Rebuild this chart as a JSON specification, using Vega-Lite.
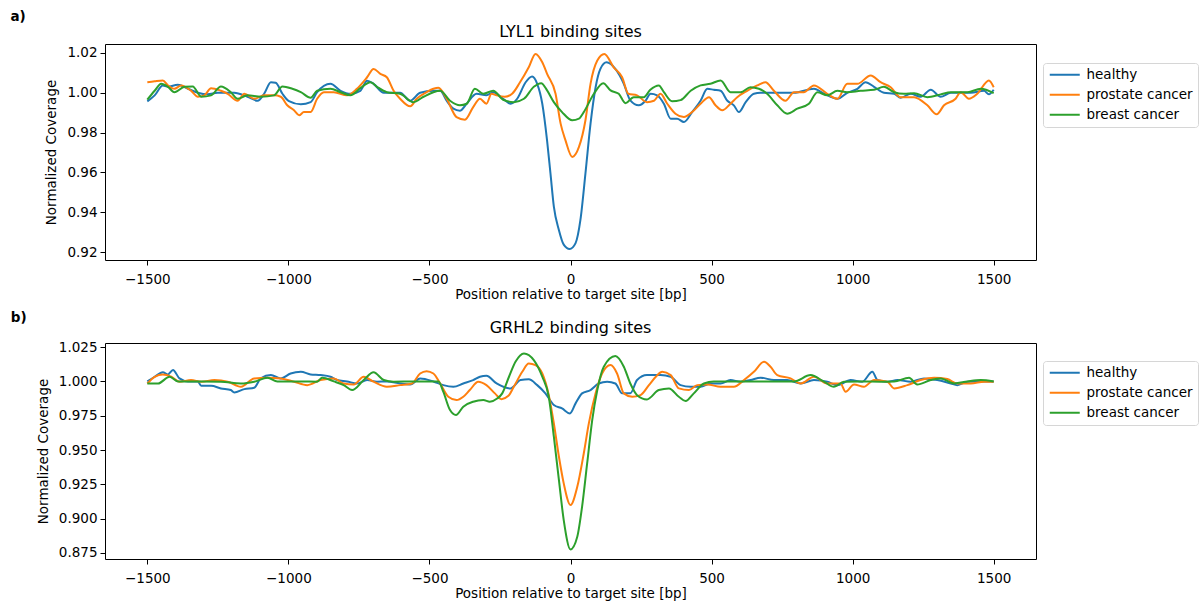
{
  "$schema": "https://vega.github.io/schema/vega-lite/v6.json",
  "padding": {"left": 10, "top": 10, "right": 0, "bottom": 0},
  "spacing": 9,
  "datasets": {
    "a": [
      {"s":"healthy","x":-1500,"y":0.9957},{"s":"healthy","x":-1474,"y":0.9987},{"s":"healthy","x":-1445,"y":1.0037},{"s":"healthy","x":-1427,"y":1.003},{"s":"healthy","x":-1392,"y":1.004},{"s":"healthy","x":-1356,"y":1.002},{"s":"healthy","x":-1321,"y":1.0},{"s":"healthy","x":-1286,"y":0.9992},{"s":"healthy","x":-1251,"y":1.0},{"s":"healthy","x":-1192,"y":1.0},{"s":"healthy","x":-1145,"y":0.998},{"s":"healthy","x":-1109,"y":0.996},{"s":"healthy","x":-1086,"y":0.9995},{"s":"healthy","x":-1062,"y":1.0053},{"s":"healthy","x":-1045,"y":1.005},{"s":"healthy","x":-1021,"y":0.9995},{"s":"healthy","x":-998,"y":0.9958},{"s":"healthy","x":-956,"y":0.9942},{"s":"healthy","x":-921,"y":0.9953},{"s":"healthy","x":-898,"y":1.0003},{"s":"healthy","x":-851,"y":1.0045},{"s":"healthy","x":-815,"y":1.001},{"s":"healthy","x":-780,"y":0.9995},{"s":"healthy","x":-745,"y":1.001},{"s":"healthy","x":-721,"y":1.006},{"s":"healthy","x":-698,"y":1.0045},{"s":"healthy","x":-662,"y":1.0},{"s":"healthy","x":-604,"y":1.0},{"s":"healthy","x":-568,"y":0.996},{"s":"healthy","x":-533,"y":1.0},{"s":"healthy","x":-486,"y":1.001},{"s":"healthy","x":-462,"y":1.001},{"s":"healthy","x":-439,"y":0.996},{"s":"healthy","x":-415,"y":0.992},{"s":"healthy","x":-392,"y":0.991},{"s":"healthy","x":-368,"y":0.9945},{"s":"healthy","x":-333,"y":0.9995},{"s":"healthy","x":-298,"y":0.9987},{"s":"healthy","x":-274,"y":1.0003},{"s":"healthy","x":-239,"y":0.997},{"s":"healthy","x":-212,"y":0.9945},{"s":"healthy","x":-189,"y":0.997},{"s":"healthy","x":-159,"y":1.0053},{"s":"healthy","x":-136,"y":1.0082},{"s":"healthy","x":-118,"y":1.0045},{"s":"healthy","x":-100,"y":0.9945},{"s":"healthy","x":-83,"y":0.976},{"s":"healthy","x":-71,"y":0.9595},{"s":"healthy","x":-59,"y":0.9428},{"s":"healthy","x":-41,"y":0.931},{"s":"healthy","x":-24,"y":0.9237},{"s":"healthy","x":-3,"y":0.9215},{"s":"healthy","x":18,"y":0.9245},{"s":"healthy","x":35,"y":0.936},{"s":"healthy","x":53,"y":0.9595},{"s":"healthy","x":71,"y":0.9845},{"s":"healthy","x":89,"y":1.0028},{"s":"healthy","x":106,"y":1.012},{"s":"healthy","x":128,"y":1.0153},{"s":"healthy","x":159,"y":1.012},{"s":"healthy","x":189,"y":1.0045},{"s":"healthy","x":212,"y":0.9962},{"s":"healthy","x":242,"y":0.9937},{"s":"healthy","x":266,"y":0.996},{"s":"healthy","x":284,"y":0.9995},{"s":"healthy","x":307,"y":0.9987},{"s":"healthy","x":331,"y":0.9945},{"s":"healthy","x":355,"y":0.987},{"s":"healthy","x":378,"y":0.987},{"s":"healthy","x":402,"y":0.9853},{"s":"healthy","x":431,"y":0.9903},{"s":"healthy","x":461,"y":0.996},{"s":"healthy","x":485,"y":1.002},{"s":"healthy","x":508,"y":1.0015},{"s":"healthy","x":532,"y":1.001},{"s":"healthy","x":556,"y":0.996},{"s":"healthy","x":579,"y":0.9937},{"s":"healthy","x":597,"y":0.9903},{"s":"healthy","x":621,"y":0.9953},{"s":"healthy","x":650,"y":0.9995},{"s":"healthy","x":674,"y":1.0},{"s":"healthy","x":792,"y":1.0},{"s":"healthy","x":863,"y":1.002},{"s":"healthy","x":899,"y":0.9995},{"s":"healthy","x":946,"y":0.997},{"s":"healthy","x":981,"y":1.0},{"s":"healthy","x":1017,"y":1.002},{"s":"healthy","x":1046,"y":1.0053},{"s":"healthy","x":1076,"y":1.003},{"s":"healthy","x":1111,"y":1.0},{"s":"healthy","x":1147,"y":0.9995},{"s":"healthy","x":1170,"y":0.9975},{"s":"healthy","x":1206,"y":0.9995},{"s":"healthy","x":1241,"y":0.998},{"s":"healthy","x":1277,"y":1.0015},{"s":"healthy","x":1312,"y":0.998},{"s":"healthy","x":1348,"y":1.0},{"s":"healthy","x":1419,"y":1.0},{"s":"healthy","x":1466,"y":1.001},{"s":"healthy","x":1483,"y":0.9992},{"s":"healthy","x":1500,"y":1.0015},
      {"s":"prostate cancer","x":-1500,"y":1.0053},{"s":"prostate cancer","x":-1474,"y":1.0058},{"s":"prostate cancer","x":-1445,"y":1.0062},{"s":"prostate cancer","x":-1427,"y":1.0037},{"s":"prostate cancer","x":-1404,"y":1.002},{"s":"prostate cancer","x":-1380,"y":1.0037},{"s":"prostate cancer","x":-1345,"y":1.001},{"s":"prostate cancer","x":-1321,"y":0.998},{"s":"prostate cancer","x":-1298,"y":0.9987},{"s":"prostate cancer","x":-1274,"y":1.0023},{"s":"prostate cancer","x":-1239,"y":1.001},{"s":"prostate cancer","x":-1215,"y":0.9995},{"s":"prostate cancer","x":-1180,"y":0.996},{"s":"prostate cancer","x":-1156,"y":0.9995},{"s":"prostate cancer","x":-1121,"y":0.997},{"s":"prostate cancer","x":-1086,"y":0.9987},{"s":"prostate cancer","x":-1051,"y":0.9987},{"s":"prostate cancer","x":-1027,"y":0.998},{"s":"prostate cancer","x":-1004,"y":0.9937},{"s":"prostate cancer","x":-980,"y":0.9912},{"s":"prostate cancer","x":-962,"y":0.9887},{"s":"prostate cancer","x":-945,"y":0.9903},{"s":"prostate cancer","x":-921,"y":0.9903},{"s":"prostate cancer","x":-898,"y":0.997},{"s":"prostate cancer","x":-874,"y":1.0003},{"s":"prostate cancer","x":-839,"y":1.0003},{"s":"prostate cancer","x":-792,"y":0.9987},{"s":"prostate cancer","x":-757,"y":1.002},{"s":"prostate cancer","x":-721,"y":1.0078},{"s":"prostate cancer","x":-698,"y":1.012},{"s":"prostate cancer","x":-674,"y":1.0095},{"s":"prostate cancer","x":-651,"y":1.0078},{"s":"prostate cancer","x":-627,"y":1.001},{"s":"prostate cancer","x":-604,"y":0.997},{"s":"prostate cancer","x":-568,"y":0.9932},{"s":"prostate cancer","x":-545,"y":0.997},{"s":"prostate cancer","x":-510,"y":1.0003},{"s":"prostate cancer","x":-486,"y":1.002},{"s":"prostate cancer","x":-468,"y":1.0025},{"s":"prostate cancer","x":-439,"y":0.997},{"s":"prostate cancer","x":-404,"y":0.9878},{"s":"prostate cancer","x":-374,"y":0.9865},{"s":"prostate cancer","x":-345,"y":0.9928},{"s":"prostate cancer","x":-321,"y":0.997},{"s":"prostate cancer","x":-298,"y":0.9945},{"s":"prostate cancer","x":-280,"y":0.9995},{"s":"prostate cancer","x":-262,"y":0.9987},{"s":"prostate cancer","x":-233,"y":0.998},{"s":"prostate cancer","x":-207,"y":0.9995},{"s":"prostate cancer","x":-180,"y":1.005},{"s":"prostate cancer","x":-148,"y":1.0128},{"s":"prostate cancer","x":-124,"y":1.0195},{"s":"prostate cancer","x":-100,"y":1.0153},{"s":"prostate cancer","x":-83,"y":1.0095},{"s":"prostate cancer","x":-53,"y":0.9995},{"s":"prostate cancer","x":-35,"y":0.9845},{"s":"prostate cancer","x":-18,"y":0.9762},{"s":"prostate cancer","x":6,"y":0.9678},{"s":"prostate cancer","x":30,"y":0.9728},{"s":"prostate cancer","x":53,"y":0.9862},{"s":"prostate cancer","x":71,"y":1.0045},{"s":"prostate cancer","x":95,"y":1.0162},{"s":"prostate cancer","x":120,"y":1.0195},{"s":"prostate cancer","x":153,"y":1.0128},{"s":"prostate cancer","x":183,"y":1.0078},{"s":"prostate cancer","x":205,"y":0.9995},{"s":"prostate cancer","x":236,"y":0.9987},{"s":"prostate cancer","x":271,"y":0.9953},{"s":"prostate cancer","x":296,"y":0.996},{"s":"prostate cancer","x":319,"y":0.9995},{"s":"prostate cancer","x":343,"y":0.9945},{"s":"prostate cancer","x":372,"y":0.9895},{"s":"prostate cancer","x":402,"y":0.9878},{"s":"prostate cancer","x":431,"y":0.9903},{"s":"prostate cancer","x":461,"y":0.9945},{"s":"prostate cancer","x":491,"y":0.9978},{"s":"prostate cancer","x":514,"y":0.9937},{"s":"prostate cancer","x":538,"y":0.9912},{"s":"prostate cancer","x":567,"y":0.9945},{"s":"prostate cancer","x":591,"y":0.9978},{"s":"prostate cancer","x":626,"y":1.001},{"s":"prostate cancer","x":662,"y":1.0037},{"s":"prostate cancer","x":691,"y":1.0053},{"s":"prostate cancer","x":721,"y":1.001},{"s":"prostate cancer","x":762,"y":0.996},{"s":"prostate cancer","x":792,"y":1.0003},{"s":"prostate cancer","x":827,"y":1.0003},{"s":"prostate cancer","x":863,"y":1.0037},{"s":"prostate cancer","x":910,"y":0.9995},{"s":"prostate cancer","x":946,"y":0.997},{"s":"prostate cancer","x":981,"y":1.0045},{"s":"prostate cancer","x":1017,"y":1.0045},{"s":"prostate cancer","x":1064,"y":1.0087},{"s":"prostate cancer","x":1099,"y":1.0053},{"s":"prostate cancer","x":1135,"y":1.0028},{"s":"prostate cancer","x":1170,"y":0.9978},{"s":"prostate cancer","x":1218,"y":0.9978},{"s":"prostate cancer","x":1265,"y":0.9937},{"s":"prostate cancer","x":1298,"y":0.9892},{"s":"prostate cancer","x":1324,"y":0.9937},{"s":"prostate cancer","x":1365,"y":0.997},{"s":"prostate cancer","x":1383,"y":1.0003},{"s":"prostate cancer","x":1412,"y":0.997},{"s":"prostate cancer","x":1442,"y":0.9995},{"s":"prostate cancer","x":1483,"y":1.0062},{"s":"prostate cancer","x":1500,"y":1.0028},
      {"s":"breast cancer","x":-1500,"y":0.9965},{"s":"breast cancer","x":-1474,"y":1.001},{"s":"breast cancer","x":-1451,"y":1.0045},{"s":"breast cancer","x":-1427,"y":1.003},{"s":"breast cancer","x":-1404,"y":1.0003},{"s":"breast cancer","x":-1368,"y":1.003},{"s":"breast cancer","x":-1339,"y":1.0032},{"s":"breast cancer","x":-1309,"y":0.998},{"s":"breast cancer","x":-1274,"y":0.9987},{"s":"breast cancer","x":-1239,"y":1.0032},{"s":"breast cancer","x":-1204,"y":1.0003},{"s":"breast cancer","x":-1180,"y":0.997},{"s":"breast cancer","x":-1145,"y":0.9987},{"s":"breast cancer","x":-1098,"y":0.998},{"s":"breast cancer","x":-1051,"y":0.9987},{"s":"breast cancer","x":-1021,"y":1.0032},{"s":"breast cancer","x":-986,"y":1.002},{"s":"breast cancer","x":-956,"y":1.0003},{"s":"breast cancer","x":-921,"y":0.9975},{"s":"breast cancer","x":-898,"y":1.001},{"s":"breast cancer","x":-851,"y":1.002},{"s":"breast cancer","x":-815,"y":1.0003},{"s":"breast cancer","x":-780,"y":0.9987},{"s":"breast cancer","x":-745,"y":1.0023},{"s":"breast cancer","x":-709,"y":1.0053},{"s":"breast cancer","x":-686,"y":1.003},{"s":"breast cancer","x":-651,"y":1.0003},{"s":"breast cancer","x":-604,"y":0.9995},{"s":"breast cancer","x":-557,"y":0.9953},{"s":"breast cancer","x":-521,"y":0.998},{"s":"breast cancer","x":-486,"y":1.0003},{"s":"breast cancer","x":-462,"y":1.001},{"s":"breast cancer","x":-427,"y":0.996},{"s":"breast cancer","x":-392,"y":0.9937},{"s":"breast cancer","x":-368,"y":0.9945},{"s":"breast cancer","x":-339,"y":1.002},{"s":"breast cancer","x":-309,"y":0.9995},{"s":"breast cancer","x":-274,"y":1.001},{"s":"breast cancer","x":-239,"y":0.9965},{"s":"breast cancer","x":-201,"y":0.9953},{"s":"breast cancer","x":-165,"y":0.997},{"s":"breast cancer","x":-130,"y":1.003},{"s":"breast cancer","x":-104,"y":1.0048},{"s":"breast cancer","x":-83,"y":1.0012},{"s":"breast cancer","x":-59,"y":0.9953},{"s":"breast cancer","x":-30,"y":0.9903},{"s":"breast cancer","x":6,"y":0.9862},{"s":"breast cancer","x":30,"y":0.987},{"s":"breast cancer","x":47,"y":0.9903},{"s":"breast cancer","x":83,"y":0.9995},{"s":"breast cancer","x":116,"y":1.0048},{"s":"breast cancer","x":142,"y":1.0012},{"s":"breast cancer","x":171,"y":0.9995},{"s":"breast cancer","x":195,"y":0.9948},{"s":"breast cancer","x":224,"y":0.9978},{"s":"breast cancer","x":260,"y":0.9978},{"s":"breast cancer","x":283,"y":1.0015},{"s":"breast cancer","x":313,"y":1.0037},{"s":"breast cancer","x":331,"y":1.0003},{"s":"breast cancer","x":360,"y":0.9957},{"s":"breast cancer","x":390,"y":0.9963},{"s":"breast cancer","x":426,"y":1.001},{"s":"breast cancer","x":461,"y":1.0037},{"s":"breast cancer","x":496,"y":1.0045},{"s":"breast cancer","x":532,"y":1.0062},{"s":"breast cancer","x":567,"y":1.0003},{"s":"breast cancer","x":603,"y":1.0003},{"s":"breast cancer","x":638,"y":1.0028},{"s":"breast cancer","x":668,"y":1.002},{"s":"breast cancer","x":697,"y":0.9995},{"s":"breast cancer","x":733,"y":0.9937},{"s":"breast cancer","x":768,"y":0.9895},{"s":"breast cancer","x":804,"y":0.992},{"s":"breast cancer","x":845,"y":0.9945},{"s":"breast cancer","x":875,"y":1.0003},{"s":"breast cancer","x":910,"y":0.9987},{"s":"breast cancer","x":946,"y":1.001},{"s":"breast cancer","x":981,"y":1.0003},{"s":"breast cancer","x":1028,"y":1.001},{"s":"breast cancer","x":1076,"y":1.0015},{"s":"breast cancer","x":1111,"y":1.003},{"s":"breast cancer","x":1147,"y":1.0003},{"s":"breast cancer","x":1182,"y":0.9995},{"s":"breast cancer","x":1218,"y":0.9998},{"s":"breast cancer","x":1265,"y":0.9978},{"s":"breast cancer","x":1312,"y":0.9992},{"s":"breast cancer","x":1348,"y":1.0003},{"s":"breast cancer","x":1407,"y":1.0003},{"s":"breast cancer","x":1454,"y":1.002},{"s":"breast cancer","x":1500,"y":0.9998}
    ],
    "b": [
      {"s":"healthy","x":-1500,"y":1.0},{"s":"healthy","x":-1474,"y":1.0034},{"s":"healthy","x":-1445,"y":1.0066},{"s":"healthy","x":-1427,"y":1.0051},{"s":"healthy","x":-1409,"y":1.0083},{"s":"healthy","x":-1386,"y":1.0022},{"s":"healthy","x":-1356,"y":1.0},{"s":"healthy","x":-1321,"y":1.0},{"s":"healthy","x":-1309,"y":0.9968},{"s":"healthy","x":-1274,"y":0.9968},{"s":"healthy","x":-1239,"y":0.9949},{"s":"healthy","x":-1204,"y":0.9937},{"s":"healthy","x":-1192,"y":0.992},{"s":"healthy","x":-1156,"y":0.9944},{"s":"healthy","x":-1121,"y":0.9954},{"s":"healthy","x":-1098,"y":1.0022},{"s":"healthy","x":-1062,"y":1.0046},{"s":"healthy","x":-1027,"y":1.0022},{"s":"healthy","x":-992,"y":1.0058},{"s":"healthy","x":-956,"y":1.007},{"s":"healthy","x":-921,"y":1.0051},{"s":"healthy","x":-886,"y":1.0046},{"s":"healthy","x":-851,"y":1.0034},{"s":"healthy","x":-827,"y":1.001},{"s":"healthy","x":-792,"y":1.0},{"s":"healthy","x":-757,"y":0.9985},{"s":"healthy","x":-721,"y":1.001},{"s":"healthy","x":-686,"y":0.9998},{"s":"healthy","x":-651,"y":1.0},{"s":"healthy","x":-604,"y":0.9985},{"s":"healthy","x":-568,"y":0.9978},{"s":"healthy","x":-533,"y":1.0022},{"s":"healthy","x":-486,"y":1.0},{"s":"healthy","x":-451,"y":0.9973},{"s":"healthy","x":-415,"y":0.9961},{"s":"healthy","x":-380,"y":0.9985},{"s":"healthy","x":-345,"y":1.001},{"s":"healthy","x":-321,"y":1.0034},{"s":"healthy","x":-298,"y":1.0041},{"s":"healthy","x":-262,"y":0.9985},{"s":"healthy","x":-212,"y":0.9949},{"s":"healthy","x":-177,"y":1.001},{"s":"healthy","x":-148,"y":1.0015},{"s":"healthy","x":-118,"y":0.9973},{"s":"healthy","x":-89,"y":0.9913},{"s":"healthy","x":-59,"y":0.9828},{"s":"healthy","x":-30,"y":0.9803},{"s":"healthy","x":-2,"y":0.9767},{"s":"healthy","x":18,"y":0.984},{"s":"healthy","x":41,"y":0.9913},{"s":"healthy","x":71,"y":0.9937},{"s":"healthy","x":100,"y":0.9985},{"s":"healthy","x":130,"y":0.9998},{"s":"healthy","x":159,"y":0.9985},{"s":"healthy","x":183,"y":0.9913},{"s":"healthy","x":212,"y":0.9913},{"s":"healthy","x":236,"y":1.001},{"s":"healthy","x":271,"y":1.0046},{"s":"healthy","x":319,"y":1.0046},{"s":"healthy","x":355,"y":1.0034},{"s":"healthy","x":390,"y":0.9973},{"s":"healthy","x":426,"y":0.9961},{"s":"healthy","x":461,"y":0.9961},{"s":"healthy","x":496,"y":0.9985},{"s":"healthy","x":532,"y":0.9985},{"s":"healthy","x":567,"y":1.001},{"s":"healthy","x":603,"y":0.9998},{"s":"healthy","x":638,"y":1.001},{"s":"healthy","x":674,"y":1.0027},{"s":"healthy","x":721,"y":1.001},{"s":"healthy","x":768,"y":1.001},{"s":"healthy","x":816,"y":0.9985},{"s":"healthy","x":863,"y":1.001},{"s":"healthy","x":910,"y":0.9998},{"s":"healthy","x":946,"y":0.9973},{"s":"healthy","x":993,"y":1.001},{"s":"healthy","x":1034,"y":0.9998},{"s":"healthy","x":1070,"y":1.007},{"s":"healthy","x":1088,"y":1.001},{"s":"healthy","x":1123,"y":0.9998},{"s":"healthy","x":1159,"y":1.001},{"s":"healthy","x":1206,"y":0.9998},{"s":"healthy","x":1253,"y":1.0022},{"s":"healthy","x":1300,"y":1.001},{"s":"healthy","x":1348,"y":0.9985},{"s":"healthy","x":1371,"y":0.9973},{"s":"healthy","x":1407,"y":0.9998},{"s":"healthy","x":1454,"y":1.0},{"s":"healthy","x":1500,"y":1.0},
      {"s":"prostate cancer","x":-1500,"y":0.9985},{"s":"prostate cancer","x":-1474,"y":1.0034},{"s":"prostate cancer","x":-1445,"y":1.0051},{"s":"prostate cancer","x":-1415,"y":1.0034},{"s":"prostate cancer","x":-1386,"y":0.9998},{"s":"prostate cancer","x":-1345,"y":1.001},{"s":"prostate cancer","x":-1309,"y":0.9998},{"s":"prostate cancer","x":-1262,"y":1.001},{"s":"prostate cancer","x":-1215,"y":0.9998},{"s":"prostate cancer","x":-1168,"y":0.9961},{"s":"prostate cancer","x":-1121,"y":1.0022},{"s":"prostate cancer","x":-1074,"y":1.0027},{"s":"prostate cancer","x":-1027,"y":1.0022},{"s":"prostate cancer","x":-980,"y":0.9998},{"s":"prostate cancer","x":-933,"y":0.9973},{"s":"prostate cancer","x":-886,"y":1.001},{"s":"prostate cancer","x":-839,"y":1.0022},{"s":"prostate cancer","x":-804,"y":0.9985},{"s":"prostate cancer","x":-768,"y":0.9978},{"s":"prostate cancer","x":-733,"y":1.0034},{"s":"prostate cancer","x":-698,"y":0.9998},{"s":"prostate cancer","x":-651,"y":0.9961},{"s":"prostate cancer","x":-604,"y":0.9973},{"s":"prostate cancer","x":-562,"y":0.9985},{"s":"prostate cancer","x":-533,"y":1.0058},{"s":"prostate cancer","x":-510,"y":1.0075},{"s":"prostate cancer","x":-486,"y":1.0058},{"s":"prostate cancer","x":-462,"y":0.9985},{"s":"prostate cancer","x":-433,"y":0.9888},{"s":"prostate cancer","x":-404,"y":0.9864},{"s":"prostate cancer","x":-380,"y":0.9888},{"s":"prostate cancer","x":-357,"y":0.9937},{"s":"prostate cancer","x":-327,"y":0.9998},{"s":"prostate cancer","x":-298,"y":0.9973},{"s":"prostate cancer","x":-268,"y":0.9913},{"s":"prostate cancer","x":-245,"y":0.9871},{"s":"prostate cancer","x":-220,"y":0.9895},{"s":"prostate cancer","x":-201,"y":0.9961},{"s":"prostate cancer","x":-171,"y":1.007},{"s":"prostate cancer","x":-148,"y":1.0131},{"s":"prostate cancer","x":-124,"y":1.0119},{"s":"prostate cancer","x":-100,"y":1.0058},{"s":"prostate cancer","x":-77,"y":0.99},{"s":"prostate cancer","x":-59,"y":0.9694},{"s":"prostate cancer","x":-41,"y":0.9451},{"s":"prostate cancer","x":-24,"y":0.9257},{"s":"prostate cancer","x":0,"y":0.9099},{"s":"prostate cancer","x":24,"y":0.9232},{"s":"prostate cancer","x":47,"y":0.9475},{"s":"prostate cancer","x":65,"y":0.9694},{"s":"prostate cancer","x":89,"y":0.9913},{"s":"prostate cancer","x":112,"y":1.0058},{"s":"prostate cancer","x":142,"y":1.0119},{"s":"prostate cancer","x":165,"y":1.0058},{"s":"prostate cancer","x":189,"y":0.9913},{"s":"prostate cancer","x":219,"y":0.9888},{"s":"prostate cancer","x":248,"y":0.99},{"s":"prostate cancer","x":278,"y":0.9973},{"s":"prostate cancer","x":305,"y":1.004},{"s":"prostate cancer","x":325,"y":1.007},{"s":"prostate cancer","x":355,"y":1.0046},{"s":"prostate cancer","x":384,"y":0.9949},{"s":"prostate cancer","x":420,"y":0.9937},{"s":"prostate cancer","x":449,"y":0.9973},{"s":"prostate cancer","x":485,"y":0.9978},{"s":"prostate cancer","x":532,"y":0.9961},{"s":"prostate cancer","x":579,"y":0.9961},{"s":"prostate cancer","x":615,"y":1.001},{"s":"prostate cancer","x":650,"y":1.007},{"s":"prostate cancer","x":686,"y":1.0143},{"s":"prostate cancer","x":709,"y":1.0107},{"s":"prostate cancer","x":733,"y":1.0046},{"s":"prostate cancer","x":780,"y":1.0022},{"s":"prostate cancer","x":816,"y":0.9985},{"s":"prostate cancer","x":863,"y":1.0034},{"s":"prostate cancer","x":910,"y":0.9985},{"s":"prostate cancer","x":957,"y":0.9985},{"s":"prostate cancer","x":975,"y":0.9925},{"s":"prostate cancer","x":1005,"y":0.9978},{"s":"prostate cancer","x":1040,"y":0.9961},{"s":"prostate cancer","x":1076,"y":1.001},{"s":"prostate cancer","x":1123,"y":0.9998},{"s":"prostate cancer","x":1147,"y":0.9949},{"s":"prostate cancer","x":1194,"y":0.9973},{"s":"prostate cancer","x":1241,"y":1.001},{"s":"prostate cancer","x":1289,"y":1.0027},{"s":"prostate cancer","x":1336,"y":1.0017},{"s":"prostate cancer","x":1371,"y":0.9985},{"s":"prostate cancer","x":1419,"y":0.9985},{"s":"prostate cancer","x":1466,"y":0.9998},{"s":"prostate cancer","x":1500,"y":0.9998},
      {"s":"breast cancer","x":-1500,"y":0.9985},{"s":"breast cancer","x":-1462,"y":0.9985},{"s":"breast cancer","x":-1421,"y":1.0034},{"s":"breast cancer","x":-1392,"y":1.0},{"s":"breast cancer","x":-1309,"y":1.0},{"s":"breast cancer","x":-1239,"y":0.9998},{"s":"breast cancer","x":-1168,"y":0.9985},{"s":"breast cancer","x":-1121,"y":0.9998},{"s":"breast cancer","x":-1074,"y":1.0027},{"s":"breast cancer","x":-1039,"y":1.0},{"s":"breast cancer","x":-956,"y":1.0},{"s":"breast cancer","x":-898,"y":0.9998},{"s":"breast cancer","x":-880,"y":1.0027},{"s":"breast cancer","x":-839,"y":1.0},{"s":"breast cancer","x":-804,"y":0.9973},{"s":"breast cancer","x":-774,"y":0.9937},{"s":"breast cancer","x":-733,"y":1.001},{"s":"breast cancer","x":-698,"y":1.0066},{"s":"breast cancer","x":-662,"y":1.001},{"s":"breast cancer","x":-627,"y":0.9998},{"s":"breast cancer","x":-557,"y":1.0},{"s":"breast cancer","x":-468,"y":1.0},{"s":"breast cancer","x":-451,"y":0.9925},{"s":"breast cancer","x":-427,"y":0.9791},{"s":"breast cancer","x":-406,"y":0.9755},{"s":"breast cancer","x":-380,"y":0.9816},{"s":"breast cancer","x":-345,"y":0.9852},{"s":"breast cancer","x":-309,"y":0.9864},{"s":"breast cancer","x":-286,"y":0.9852},{"s":"breast cancer","x":-260,"y":0.9875},{"s":"breast cancer","x":-242,"y":0.9913},{"s":"breast cancer","x":-218,"y":1.0034},{"s":"breast cancer","x":-195,"y":1.0143},{"s":"breast cancer","x":-165,"y":1.0204},{"s":"breast cancer","x":-130,"y":1.0155},{"s":"breast cancer","x":-100,"y":1.0034},{"s":"breast cancer","x":-77,"y":0.9888},{"s":"breast cancer","x":-59,"y":0.9597},{"s":"breast cancer","x":-41,"y":0.928},{"s":"breast cancer","x":-24,"y":0.899},{"s":"breast cancer","x":0,"y":0.8776},{"s":"breast cancer","x":24,"y":0.8868},{"s":"breast cancer","x":41,"y":0.9086},{"s":"breast cancer","x":59,"y":0.9402},{"s":"breast cancer","x":77,"y":0.9718},{"s":"breast cancer","x":95,"y":0.9937},{"s":"breast cancer","x":118,"y":1.0107},{"s":"breast cancer","x":159,"y":1.0185},{"s":"breast cancer","x":189,"y":1.0107},{"s":"breast cancer","x":212,"y":0.9985},{"s":"breast cancer","x":236,"y":0.99},{"s":"breast cancer","x":271,"y":0.9869},{"s":"breast cancer","x":313,"y":0.9937},{"s":"breast cancer","x":349,"y":0.9949},{"s":"breast cancer","x":384,"y":0.9888},{"s":"breast cancer","x":408,"y":0.9857},{"s":"breast cancer","x":437,"y":0.9913},{"s":"breast cancer","x":473,"y":0.9985},{"s":"breast cancer","x":508,"y":1.0},{"s":"breast cancer","x":579,"y":1.0},{"s":"breast cancer","x":674,"y":1.0},{"s":"breast cancer","x":792,"y":1.0},{"s":"breast cancer","x":851,"y":1.0046},{"s":"breast cancer","x":898,"y":0.9998},{"s":"breast cancer","x":934,"y":0.9961},{"s":"breast cancer","x":969,"y":0.9998},{"s":"breast cancer","x":1028,"y":1.0},{"s":"breast cancer","x":1099,"y":0.9998},{"s":"breast cancer","x":1147,"y":1.0},{"s":"breast cancer","x":1200,"y":1.0027},{"s":"breast cancer","x":1229,"y":0.9978},{"s":"breast cancer","x":1277,"y":1.001},{"s":"breast cancer","x":1312,"y":1.0022},{"s":"breast cancer","x":1360,"y":0.9985},{"s":"breast cancer","x":1407,"y":1.0},{"s":"breast cancer","x":1454,"y":1.001},{"s":"breast cancer","x":1500,"y":1.0}
    ]
  },
  "resolve": {"scale": {"color": "independent", "y": "independent"}, "legend": {"color": "independent"}},
  "vconcat": [
    {
      "title": {"text": "a)", "anchor": "start", "frame": "bounds", "fontWeight": "bold", "fontSize": 13.5, "dx": -34, "offset": 0},
      "vconcat": [
        {
          "title": {"text": "LYL1 binding sites", "fontSize": 16, "fontWeight": "normal", "offset": 4},
          "width": 931,
          "height": 216,
          "data": {"name": "a"},
          "mark": {"type": "line", "strokeWidth": 2, "interpolate": "monotone"},
          "encoding": {
            "x": {"field": "x", "type": "quantitative", "scale": {"domain": [-1650, 1650], "nice": false}, "axis": {"values": [-1500, -1000, -500, 0, 500, 1000, 1500], "format": "d", "title": "Position relative to target site [bp]"}},
            "y": {"field": "y", "type": "quantitative", "scale": {"domain": [0.916, 1.0245], "nice": false, "zero": false}, "axis": {"values": [0.92, 0.94, 0.96, 0.98, 1.0, 1.02], "format": ".2f", "title": "Normalized Coverage"}},
            "color": {"field": "s", "type": "nominal", "sort": ["healthy", "prostate cancer", "breast cancer"], "scale": {"domain": ["healthy", "prostate cancer", "breast cancer"], "range": ["#1f77b4", "#ff7f0e", "#2ca02c"]}, "legend": {"title": null, "orient": "none", "legendX": 938, "legendY": 19}}
          }
        }
      ]
    },
    {
      "title": {"text": "b)", "anchor": "start", "frame": "bounds", "fontWeight": "bold", "fontSize": 13.5, "dx": -25, "offset": -5},
      "vconcat": [
        {
          "title": {"text": "GRHL2 binding sites", "fontSize": 16, "fontWeight": "normal", "offset": 4},
          "width": 931,
          "height": 216,
          "data": {"name": "b"},
          "mark": {"type": "line", "strokeWidth": 2, "interpolate": "monotone"},
          "encoding": {
            "x": {"field": "x", "type": "quantitative", "scale": {"domain": [-1650, 1650], "nice": false}, "axis": {"values": [-1500, -1000, -500, 0, 500, 1000, 1500], "format": "d", "title": "Position relative to target site [bp]"}},
            "y": {"field": "y", "type": "quantitative", "scale": {"domain": [0.8706, 1.028], "nice": false, "zero": false}, "axis": {"values": [0.875, 0.9, 0.925, 0.95, 0.975, 1.0, 1.025], "format": ".3f", "title": "Normalized Coverage"}},
            "color": {"field": "s", "type": "nominal", "sort": ["healthy", "prostate cancer", "breast cancer"], "scale": {"domain": ["healthy", "prostate cancer", "breast cancer"], "range": ["#1f77b4", "#ff7f0e", "#2ca02c"]}, "legend": {"title": null, "orient": "none", "legendX": 938, "legendY": 18}}
          }
        }
      ]
    }
  ],
  "config": {
    "font": "DejaVu Sans",
    "view": {"stroke": "#000", "strokeWidth": 1},
    "axis": {"domain": false, "grid": false, "ticks": true, "tickColor": "#000", "tickSize": 5, "tickWidth": 1, "labelFontSize": 13.5, "labelColor": "#000", "labelPadding": 3, "titleFontSize": 13.5, "titleFontWeight": "normal", "titleColor": "#000"},
    "axisX": {"titlePadding": 2, "labelPadding": 7},
    "axisY": {"titlePadding": 8},
    "title": {"fontWeight": "normal", "fontSize": 16, "color": "#000"},
    "legend": {"symbolType": "M-1,0H5", "symbolSize": 100, "symbolStrokeWidth": 2, "symbolStrokeColor": null, "labelFontSize": 13.5, "labelColor": "#000", "labelOffset": 25, "padding": 5, "strokeColor": "#d6d6d6", "fillColor": "#ffffff", "cornerRadius": 3, "rowPadding": 5}
  }
}
